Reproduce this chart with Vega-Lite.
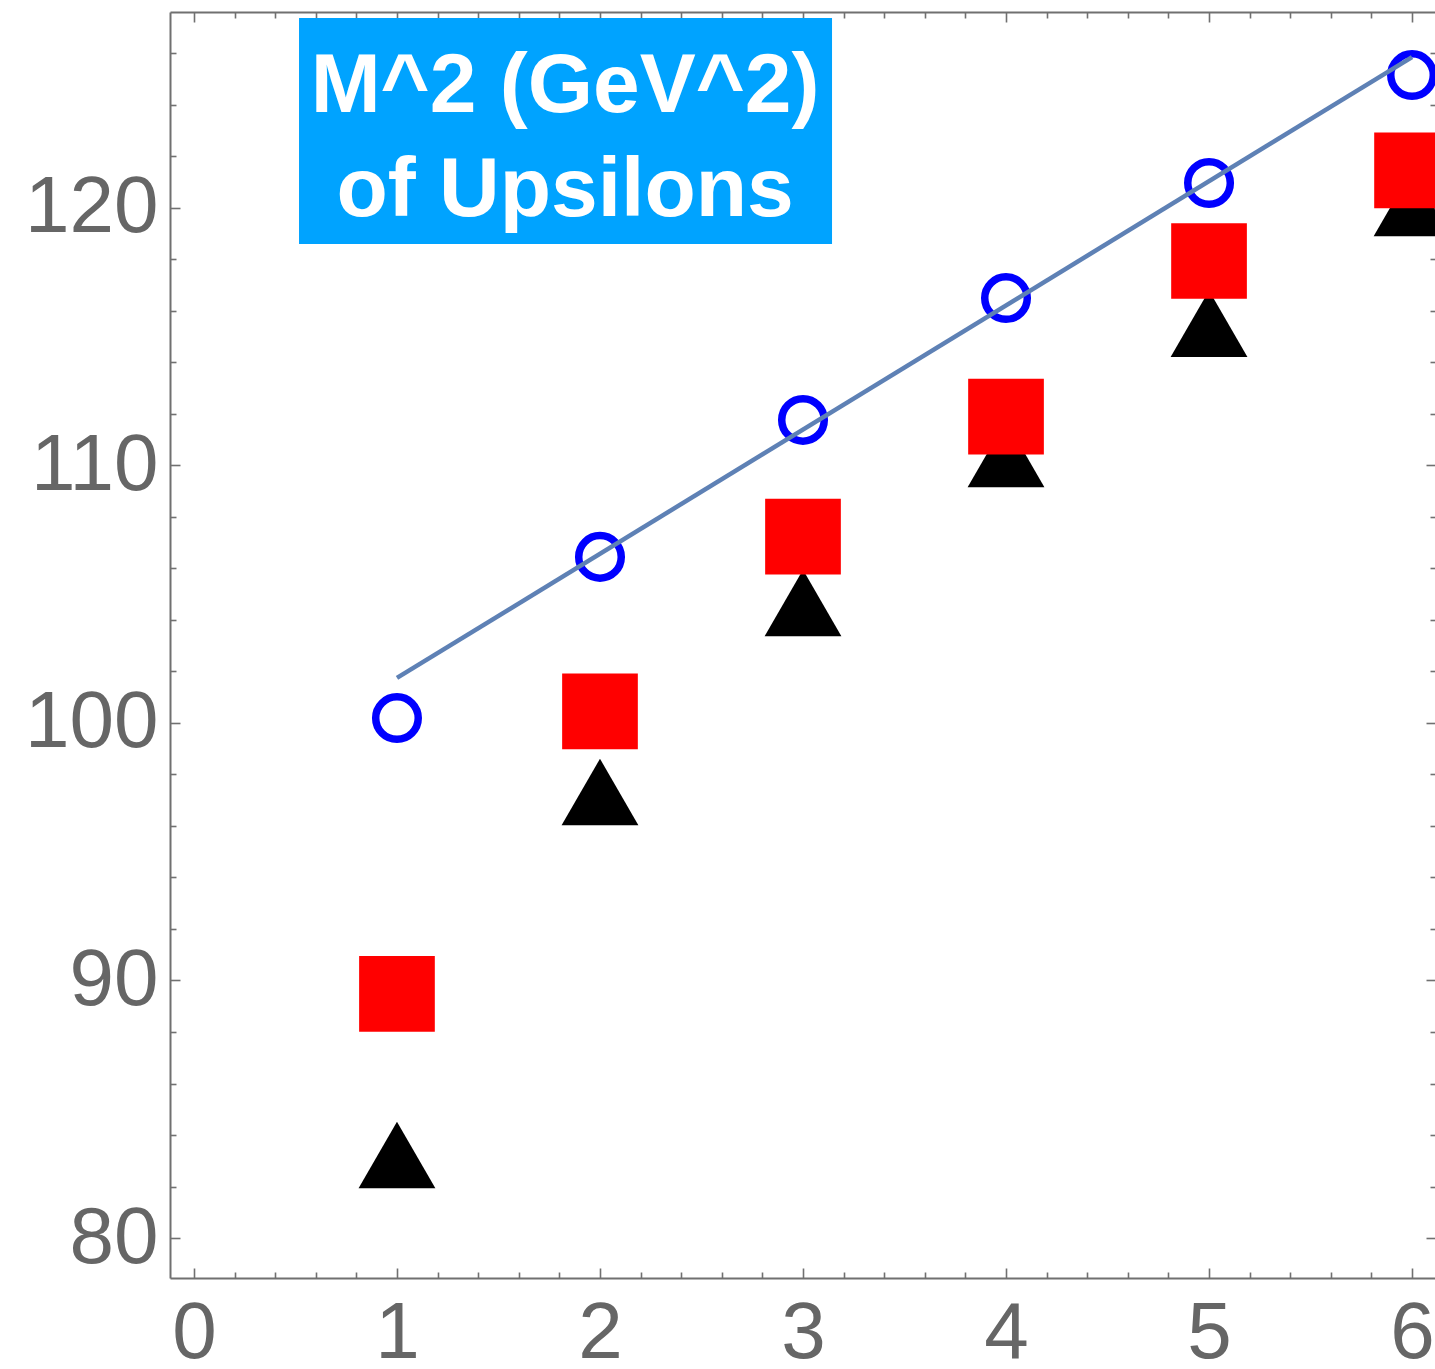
{
  "$schema": "https://vega.github.io/schema/vega-lite/v6.json",
  "width": 1266,
  "height": 1266,
  "autosize": "none",
  "padding": {"left": 170, "top": 12, "right": 0, "bottom": 91},
  "background": "white",
  "config": {
    "view": {"stroke": null},
    "font": "Liberation Sans",
    "axis": {
      "domainColor": "#707070",
      "domainWidth": 2,
      "tickColor": "#707070",
      "tickWidth": 1.6,
      "grid": false,
      "title": null,
      "labelFont": "Liberation Sans",
      "labelFontSize": 80,
      "labelColor": "#666666",
      "labelOverlap": false,
      "labelBound": false,
      "labelFlush": false
    }
  },
  "datasets": {
    "masses": [
      {"n": 1, "set": "open", "m2": 100.19},
      {"n": 2, "set": "open", "m2": 106.45},
      {"n": 3, "set": "open", "m2": 111.77},
      {"n": 4, "set": "open", "m2": 116.5},
      {"n": 5, "set": "open", "m2": 120.97},
      {"n": 6, "set": "open", "m2": 125.16},
      {"n": 1, "set": "square", "m2": 89.48},
      {"n": 2, "set": "square", "m2": 100.45},
      {"n": 3, "set": "square", "m2": 107.24},
      {"n": 4, "set": "square", "m2": 111.9},
      {"n": 5, "set": "square", "m2": 117.94},
      {"n": 6, "set": "square", "m2": 121.46},
      {"n": 1, "set": "triangle", "m2": 83.22},
      {"n": 2, "set": "triangle", "m2": 97.32},
      {"n": 3, "set": "triangle", "m2": 104.66},
      {"n": 4, "set": "triangle", "m2": 110.45},
      {"n": 5, "set": "triangle", "m2": 115.5},
      {"n": 6, "set": "triangle", "m2": 120.19}
    ],
    "fit": [
      {"n": 1, "m2": 101.75},
      {"n": 6, "m2": 125.86}
    ],
    "caption": [
      {"text": "M^2 (GeV^2)\nof Upsilons"}
    ]
  },
  "layer": [
    {
      "data": {"name": "masses"},
      "transform": [{"filter": "datum.set === 'triangle'"}],
      "mark": {"type": "point", "shape": "triangle-up", "filled": true, "color": "black", "opacity": 1, "size": 5900},
      "encoding": {
        "x": {
          "field": "n", "type": "quantitative",
          "scale": {"domain": [-0.118, 6.118], "nice": false, "zero": false},
          "axis": {
            "orient": "bottom",
            "values": [0, 1, 2, 3, 4, 5, 6],
            "tickCount": 7,
            "format": "d",
            "tickSize": -10,
            "labelPadding": 26
          }
        },
        "y": {
          "field": "m2", "type": "quantitative",
          "scale": {"domain": [78.447, 127.61], "nice": false, "zero": false},
          "axis": {
            "orient": "left",
            "values": [80, 90, 100, 110, 120],
            "tickCount": 5,
            "format": "d",
            "tickSize": -10,
            "labelPadding": 22
          }
        }
      }
    },
    {
      "data": {"name": "masses"},
      "transform": [{"filter": "datum.set === 'square'"}],
      "mark": {"type": "point", "shape": "square", "filled": true, "color": "#ff0000", "opacity": 1, "size": 5730},
      "encoding": {
        "x": {
          "field": "n", "type": "quantitative",
          "axis": {
            "orient": "bottom",
            "values": [0.2,0.4,0.6,0.8,1.2,1.4,1.6,1.8,2.2,2.4,2.6,2.8,3.2,3.4,3.6,3.8,4.2,4.4,4.6,4.8,5.2,5.4,5.6,5.8],
            "tickCount": 24,
            "labels": false,
            "domain": false,
            "tickSize": -6
          }
        },
        "y": {
          "field": "m2", "type": "quantitative",
          "axis": {
            "orient": "left",
            "values": [82,84,86,88,92,94,96,98,102,104,106,108,112,114,116,118,122,124,126],
            "tickCount": 19,
            "labels": false,
            "domain": false,
            "tickSize": -6
          }
        }
      }
    },
    {
      "data": {"name": "masses"},
      "transform": [{"filter": "datum.set === 'open'"}],
      "mark": {"type": "point", "shape": "circle", "filled": false, "fill": null, "stroke": "#0000ff", "strokeWidth": 7.5, "opacity": 1, "size": 1810},
      "encoding": {
        "x": {
          "field": "n", "type": "quantitative",
          "axis": {
            "orient": "top",
            "values": [0, 1, 2, 3, 4, 5, 6],
            "tickCount": 7,
            "labels": false,
            "tickSize": -10
          }
        },
        "y": {
          "field": "m2", "type": "quantitative",
          "axis": {
            "orient": "right",
            "values": [80, 90, 100, 110, 120],
            "tickCount": 5,
            "labels": false,
            "tickSize": -10
          }
        }
      }
    },
    {
      "data": {"name": "fit"},
      "mark": {"type": "line", "color": "#5e81b5", "strokeWidth": 4.5},
      "encoding": {
        "x": {
          "field": "n", "type": "quantitative",
          "axis": {
            "orient": "top",
            "values": [0.2,0.4,0.6,0.8,1.2,1.4,1.6,1.8,2.2,2.4,2.6,2.8,3.2,3.4,3.6,3.8,4.2,4.4,4.6,4.8,5.2,5.4,5.6,5.8],
            "tickCount": 24,
            "labels": false,
            "domain": false,
            "tickSize": -6
          }
        },
        "y": {
          "field": "m2", "type": "quantitative",
          "axis": {
            "orient": "right",
            "values": [82,84,86,88,92,94,96,98,102,104,106,108,112,114,116,118,122,124,126],
            "tickCount": 19,
            "labels": false,
            "domain": false,
            "tickSize": -6
          }
        }
      }
    },
    {
      "data": {"name": "caption"},
      "mark": {"type": "rect", "color": "#00a3ff", "opacity": 1},
      "encoding": {
        "x": {"datum": 0.5175, "type": "quantitative", "axis": null},
        "x2": {"datum": 3.143},
        "y": {"datum": 127.38, "type": "quantitative", "axis": null},
        "y2": {"datum": 118.6}
      }
    },
    {
      "data": {"name": "caption"},
      "mark": {
        "type": "text", "color": "white", "font": "Liberation Sans", "fontWeight": "bold",
        "fontSize": 84, "align": "center", "baseline": "alphabetic", "lineHeight": 104,
        "lineBreak": "\n"
      },
      "encoding": {
        "x": {"datum": 1.828, "type": "quantitative", "axis": null},
        "y": {"datum": 123.73, "type": "quantitative", "axis": null},
        "text": {"field": "text"}
      }
    }
  ],
  "resolve": {"axis": {"x": "independent", "y": "independent"}}
}
